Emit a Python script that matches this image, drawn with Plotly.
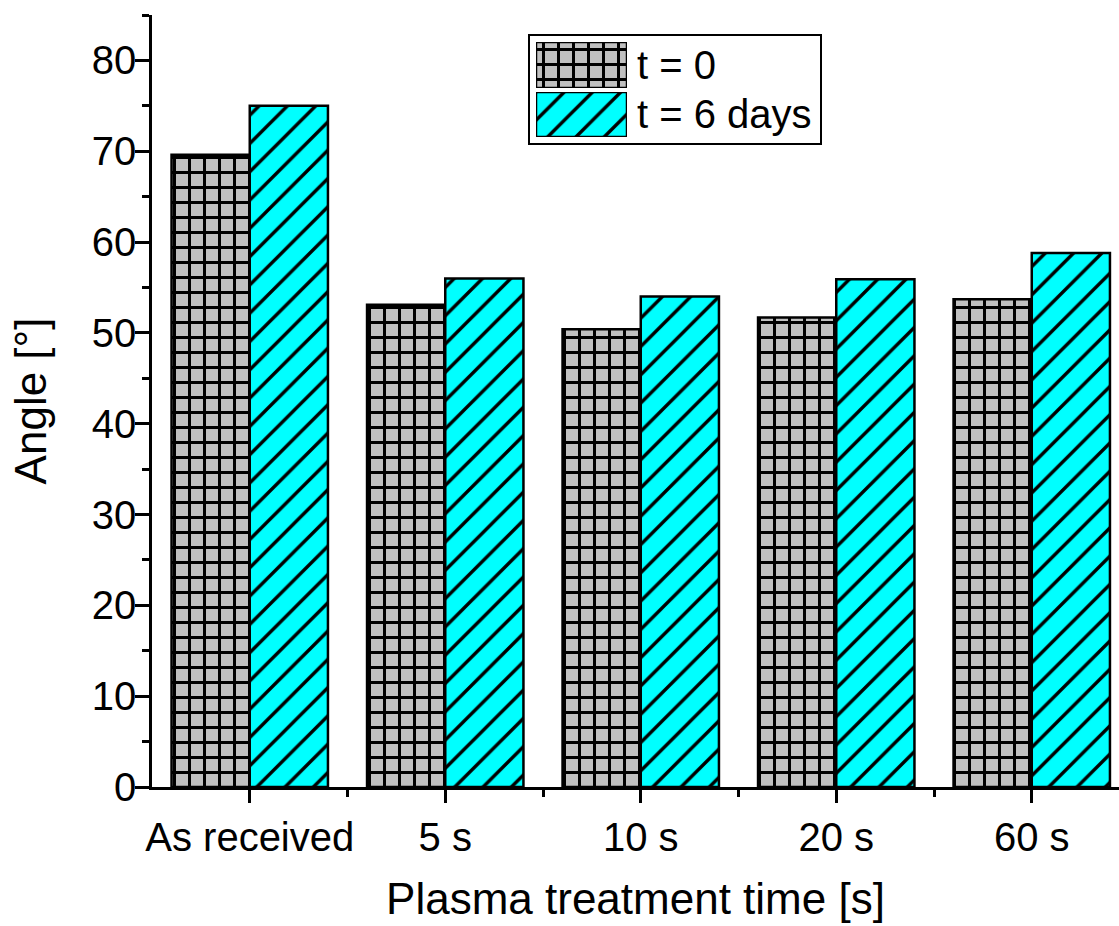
import plotly.graph_objects as go

categories = ["As received", "5 s", "10 s", "20 s", "60 s"]
t0_values = [69.6, 53.1, 50.4, 51.7, 53.7]
t6_values = [75.0, 56.0, 54.0, 55.9, 58.8]
series_names = ["t = 0", "t = 6 days"]
y_ticks = [0, 10, 20, 30, 40, 50, 60, 70, 80]

W, H = 1119, 926
L, R, T, B = 152, 0, 15, 139
PW, PH = W - L - R, H - T - B

def px_x(x):
    return (x - L) / PW

def px_y(y):
    return (H - B - y) / PH

FONT = "Liberation Sans, Arial, sans-serif"
GRAY = "#C0C0C0"
CYAN = "#00FFFF"

xpos = list(range(len(categories)))

gray_pattern = dict(shape="+", fgcolor="black", fgopacity=1, fillmode="overlay", size=15, solidity=0.36)
cyan_pattern = dict(shape="/", fgcolor="black", fgopacity=1, fillmode="overlay", size=20, solidity=0.17)

fig = go.Figure()
fig.add_trace(go.Bar(
    x=xpos, y=t0_values, name=series_names[0], offsetgroup="a",
    marker=dict(color=GRAY, line=dict(color="black", width=2.5), pattern=gray_pattern),
    showlegend=False,
))
fig.add_trace(go.Bar(
    x=xpos, y=t6_values, name=series_names[1], offsetgroup="b",
    marker=dict(color=CYAN, line=dict(color="black", width=2.5), pattern=cyan_pattern),
    showlegend=False,
))

# legend swatches as tiny subplots
fig.add_trace(go.Bar(
    x=[0], y=[1], width=[1], xaxis="x2", yaxis="y2", showlegend=False, hoverinfo="skip",
    marker=dict(color=GRAY, line=dict(color="black", width=2.5), pattern=gray_pattern),
))
fig.add_trace(go.Bar(
    x=[0], y=[1], width=[1], xaxis="x3", yaxis="y3", showlegend=False, hoverinfo="skip",
    marker=dict(color=CYAN, line=dict(color="black", width=2.5), pattern=cyan_pattern),
))

hidden = dict(visible=False, fixedrange=True)
fig.update_layout(
    width=W, height=H,
    margin=dict(l=L, r=R, t=T, b=B),
    paper_bgcolor="white", plot_bgcolor="white",
    font=dict(family=FONT, color="black"),
    barmode="group", bargap=0.2, bargroupgap=0,
    xaxis=dict(
        range=[-0.5, -0.5 + PW / 195.5], tickmode="array", tickvals=xpos, ticktext=categories,
        ticks="outside", ticklen=13, tickwidth=2.5, tickcolor="black",
        showline=True, linecolor="black", linewidth=2.5, showgrid=False, zeroline=False,
        tickfont=dict(size=40, family=FONT),
        minor=dict(tickvals=[i + 0.5 for i in xpos], ticks="outside", ticklen=7, tickwidth=2.5, tickcolor="black"),
        title=dict(text="Plasma treatment time [s]", font=dict(size=44, family=FONT), standoff=26),
    ),
    yaxis=dict(
        range=[0, 85], tickmode="array", tickvals=y_ticks,
        ticks="outside", ticklen=14, tickwidth=2.5, tickcolor="black",
        showline=True, linecolor="black", linewidth=2.5, showgrid=False, zeroline=False,
        tickfont=dict(size=40, family=FONT), ticklabelstandoff=-9,
        minor=dict(dtick=5, tick0=0, ticks="outside", ticklen=7, tickwidth=2.5, tickcolor="black"),
        title=dict(text="Angle [°]", font=dict(size=44, family=FONT), standoff=32),
    ),
    xaxis2=dict(domain=[px_x(536), px_x(627)], range=[-0.5, 0.5], anchor="y2", **hidden),
    yaxis2=dict(domain=[px_y(88), px_y(42)], range=[0, 1], anchor="x2", **hidden),
    xaxis3=dict(domain=[px_x(536), px_x(627)], range=[-0.5, 0.5], anchor="y3", **hidden),
    yaxis3=dict(domain=[px_y(137), px_y(92)], range=[0, 1], anchor="x3", **hidden),
    shapes=[dict(
        type="rect", xref="paper", yref="paper",
        x0=px_x(529), x1=px_x(821), y0=px_y(144), y1=px_y(35),
        line=dict(color="black", width=2), fillcolor="rgba(0,0,0,0)", layer="below",
    )],
    annotations=[
        dict(text=series_names[0], xref="paper", yref="paper", x=px_x(635), y=px_y(65),
             xanchor="left", yanchor="middle", showarrow=False, font=dict(size=40, family=FONT)),
        dict(text=series_names[1], xref="paper", yref="paper", x=px_x(635), y=px_y(114),
             xanchor="left", yanchor="middle", showarrow=False, font=dict(size=40, family=FONT)),
    ],
)

fig.write_html("out.html")
